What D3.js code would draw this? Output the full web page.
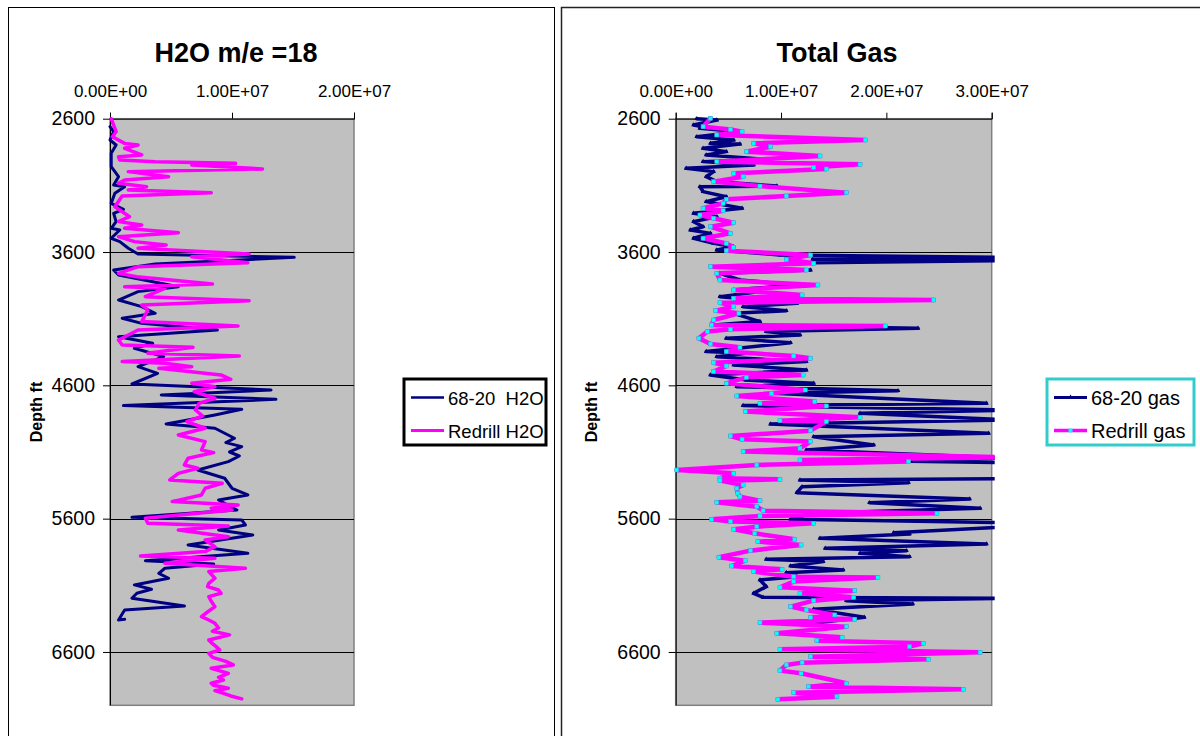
<!DOCTYPE html>
<html>
<head>
<meta charset="utf-8">
<script src="https://cdn.jsdelivr.net/npm/d3@7"></script>
<style>
  body { margin: 0; background: #fff; }
  svg { display: block; font-family: "Liberation Sans", Arial, sans-serif; }
</style>
</head>
<body>
<div id="chart"></div>
<script>
// depth ticks shared by both panels
var depthTicks = [2600, 3600, 4600, 5600, 6600];
var h2oTicks = [0, 1e7, 2e7];
var gasTicks = [0, 1e7, 2e7, 3e7];

// values below are in millions (x 1e6)
// --- H2O m/e=18, well 68-20
var h2oDepth6820 = [2660, 2697, 2760, 2797, 2860, 2960, 3035, 3097, 3110, 3160, 3235, 3280, 3310, 3372, 3422, 3435, 3497, 3522, 3572, 3615,
  3640, 3690, 3735, 3772, 3860, 3897, 3960, 4010, 4060, 4097, 4135, 4185, 4235, 4285, 4322, 4385, 4460, 4510, 4590, 4635,
  4672, 4705, 4752, 4780, 4822, 4890, 4922, 4997, 5030, 5060, 5100, 5130, 5172, 5235, 5297, 5372, 5422, 5460, 5535, 5590,
  5610, 5647, 5685, 5722, 5797, 5860, 5915, 5940, 5972, 6010, 6047, 6097, 6130, 6160, 6197, 6255, 6285, 6360, 6355];
var h2oVal6820 = [0.0, 0.3, 0.0, 0.5, 0.1, 0.1, 0.7, 0.3, 1.2, 0.4, 0.1, 1.1, 0.3, 0.5, 0.1, 0.8, 0.1, 0.8, 1.5, 2.3,
  15.1, 3.7, 0.3, 0.7, 5.6, 2.3, 0.7, 2.6, 3.7, 1.0, 2.6, 8.8, 0.7, 3.5, 2.0, 4.4, 2.3, 3.9, 1.8, 13.2,
  4.2, 13.6, 1.1, 10.8, 8.6, 4.6, 8.6, 10.2, 9.5, 10.8, 9.8, 10.6, 9.7, 7.2, 9.4, 10.0, 11.3, 8.9, 10.4, 1.8,
  10.8, 11.1, 8.9, 11.7, 6.4, 11.3, 2.9, 8.5, 4.5, 4.0, 4.8, 2.0, 3.4, 2.2, 1.8, 6.1, 1.2, 0.7, 1.2];

// --- H2O m/e=18, redrill
var h2oDepthRe = [2600, 2697, 2735, 2785, 2797, 2822, 2872, 2885, 2910, 2922, 2935, 2947, 2977, 2997, 3035, 3060, 3085, 3110, 3135, 3155,
  3180, 3260, 3285, 3335, 3372, 3397, 3422, 3455, 3485, 3522, 3547, 3572, 3615, 3635, 3680, 3710, 3760, 3785, 3840, 3860,
  3872, 3935, 3965, 3997, 4035, 4122, 4155, 4185, 4260, 4297, 4315, 4360, 4380, 4422, 4435, 4460, 4472, 4522, 4555, 4585,
  4610, 4647, 4697, 4735, 4785, 4830, 4872, 4922, 4972, 5022, 5085, 5105, 5147, 5197, 5222, 5260, 5310, 5335, 5372, 5422,
  5472, 5497, 5522, 5535, 5597, 5635, 5655, 5685, 5735, 5760, 5810, 5847, 5880, 5897, 5935, 5972, 5997, 6047, 6085, 6110,
  6135, 6160, 6185, 6220, 6260, 6300, 6335, 6360, 6385, 6420, 6445, 6472, 6510, 6530, 6560, 6585, 6610, 6640, 6670, 6697,
  6722, 6760, 6790, 6810, 6835, 6850, 6872, 6890, 6910, 6930, 6952];
var h2oValRe = [0.1, 0.5, 0.2, 1.2, 2.3, 1.2, 2.6, 0.7, 0.8, 3.7, 10.3, 6.7, 12.5, 1.5, 4.8, 1.2, 0.7, 3.0, 1.5, 8.3,
  1.0, 0.4, 0.8, 1.6, 0.7, 2.6, 1.2, 5.6, 0.7, 2.0, 4.6, 2.3, 11.4, 6.7, 11.3, 2.3, 0.7, 2.2, 8.4, 1.2,
  4.5, 2.9, 11.4, 2.6, 3.1, 2.6, 10.5, 2.3, 0.7, 1.0, 6.8, 3.1, 10.6, 1.0, 4.5, 6.7, 4.0, 9.1, 9.9, 6.7,
  8.6, 6.9, 8.6, 7.3, 7.0, 7.6, 6.3, 7.8, 5.6, 7.8, 7.5, 8.5, 6.4, 6.1, 7.2, 5.6, 4.9, 9.2, 7.8, 7.5,
  5.1, 10.5, 8.3, 10.0, 2.9, 3.1, 9.7, 5.6, 9.7, 7.8, 8.6, 7.8, 2.5, 8.6, 4.5, 11.1, 8.1, 8.6, 8.1, 8.0,
  8.9, 9.1, 8.1, 8.3, 8.6, 8.0, 7.5, 8.1, 8.6, 8.9, 8.4, 9.8, 8.1, 8.3, 8.7, 9.0, 8.1, 8.4, 9.5, 10.1,
  8.3, 9.7, 8.9, 9.3, 8.3, 8.5, 9.7, 8.6, 9.3, 9.9, 10.8];

// --- Total gas, well 68-20 (values past 30 run off the plot)
var gasDepth6820 = [2600, 2610, 2647, 2660, 2672, 2697, 2735, 2760, 2785, 2790, 2822, 2847, 2872, 2905, 2922, 2947, 2972, 2997, 3035, 3072,
  3105, 3110, 3147, 3185, 3222, 3272, 3310, 3335, 3372, 3410, 3435, 3460, 3497, 3535, 3560, 3585, 3622, 3640, 3655, 3665,
  3680, 3715, 3735, 3760, 3810, 3847, 3885, 3897, 3935, 3985, 4010, 4040, 4060, 4122, 4147, 4172, 4197, 4222, 4247, 4280,
  4347, 4360, 4385, 4422, 4447, 4485, 4522, 4560, 4585, 4610, 4640, 4660, 4735, 4752, 4785, 4810, 4860, 4890, 4960, 4985,
  5047, 5085, 5147, 5160, 5180, 5290, 5300, 5310, 5330, 5360, 5405, 5452, 5480, 5522, 5560, 5605, 5630, 5660, 5705, 5715,
  5747, 5790, 5822, 5840, 5860, 5885, 5905, 5922, 5955, 5985, 6005, 6035, 6060, 6110, 6160, 6190, 6197, 6215, 6240, 6280,
  6340, 6380];
var gasVal6820 = [2.0, 3.9, 1.7, 2.6, 2.3, 6.1, 2.0, 5.5, 3.3, 6.1, 2.6, 4.8, 2.9, 8.6, 2.6, 7.4, 1.0, 3.6, 2.9, 3.9,
  9.6, 2.3, 2.6, 4.8, 2.9, 6.3, 1.7, 3.9, 1.7, 2.6, 1.4, 3.3, 1.7, 3.6, 5.5, 3.9, 9.9, 32, 13.0, 32,
  13.1, 5.2, 12.8, 4.2, 6.1, 11.5, 5.5, 8.0, 4.2, 11.5, 6.4, 10.5, 5.5, 8.0, 3.6, 23.0, 8.6, 11.8, 4.8, 10.9,
  2.9, 6.7, 3.9, 12.4, 5.5, 12.4, 3.3, 6.7, 13.1, 5.8, 21.1, 9.3, 29.5, 6.4, 32, 17.5, 32, 9.0, 29.7, 13.1,
  18.8, 12.4, 32, 14.0, 32, 32, 32, 11.8, 22.1, 12.0, 11.5, 27.9, 18.4, 28.9, 12.8, 10.9, 32, 32, 20.7, 22.2,
  13.7, 29.5, 14.2, 21.9, 17.5, 22.2, 8.6, 14.0, 10.9, 15.9, 10.5, 11.5, 8.0, 8.6, 7.4, 8.3, 32, 16.2, 22.5, 13.1,
  17.9, 13.4];

// --- Total gas, redrill
var gasDepthRe = [2597, 2660, 2680, 2697, 2722, 2760, 2785, 2810, 2847, 2880, 2922, 2942, 2965, 2977, 3010, 3035, 3072, 3105, 3155, 3180,
  3205, 3235, 3272, 3290, 3322, 3347, 3380, 3410, 3460, 3497, 3535, 3565, 3590, 3622, 3655, 3685, 3710, 3735, 3760, 3810,
  3847, 3885, 3922, 3947, 3960, 3980, 4010, 4040, 4060, 4110, 4147, 4155, 4180, 4197, 4247, 4290, 4315, 4347, 4380, 4397,
  4430, 4455, 4497, 4522, 4540, 4585, 4635, 4660, 4680, 4722, 4735, 4755, 4797, 4840, 4865, 4872, 4940, 4980, 5005, 5022,
  5072, 5097, 5140, 5160, 5172, 5197, 5235, 5260, 5297, 5305, 5315, 5347, 5372, 5410, 5435, 5465, 5477, 5510, 5540, 5560,
  5580, 5605, 5622, 5635, 5660, 5680, 5710, 5755, 5772, 5797, 5840, 5890, 5915, 5955, 5980, 5997, 6035, 6042, 6072, 6115,
  6140, 6160, 6190, 6215, 6260, 6285, 6322, 6340, 6355, 6380, 6410, 6460, 6490, 6515, 6535, 6560, 6580, 6602, 6635, 6655,
  6680, 6697, 6740, 6760, 6835, 6860, 6880, 6905, 6935, 6955];
var gasValRe = [3.3, 2.6, 5.2, 6.3, 3.9, 18.0, 7.4, 9.0, 6.7, 13.7, 3.9, 17.5, 13.1, 14.3, 5.5, 6.4, 3.6, 8.0, 16.2, 10.5,
  4.8, 4.5, 2.6, 4.5, 2.3, 3.6, 5.5, 3.3, 5.2, 2.6, 4.8, 5.5, 4.8, 12.8, 10.5, 13.1, 3.3, 12.4, 3.9, 4.2,
  13.5, 5.5, 12.0, 5.5, 24.5, 4.2, 5.5, 3.8, 6.0, 3.6, 3.4, 19.9, 5.2, 3.0, 2.2, 3.3, 6.1, 4.8, 11.2, 12.8,
  3.6, 4.8, 3.6, 12.1, 6.7, 4.8, 12.3, 9.1, 5.8, 13.2, 8.0, 14.3, 6.6, 17.5, 9.9, 14.3, 12.8, 5.2, 6.3, 12.8,
  11.8, 6.4, 32, 11.8, 22.1, 7.7, 0.1, 5.5, 4.2, 9.9, 4.2, 6.4, 5.8, 5.9, 6.1, 8.0, 3.9, 7.7, 8.3, 24.8,
  8.0, 3.4, 5.2, 13.1, 7.7, 5.5, 7.5, 11.3, 7.8, 11.9, 7.1, 4.1, 6.6, 5.3, 10.1, 7.4, 11.2, 19.2, 11.2, 9.9,
  17.0, 11.8, 16.9, 13.1, 10.9, 12.4, 15.1, 12.8, 17.0, 8.0, 16.2, 9.6, 15.8, 13.4, 23.5, 22.2, 9.9, 28.9, 12.8, 24.0,
  12.0, 10.5, 9.9, 11.9, 16.2, 12.6, 27.3, 11.2, 15.3, 9.7];

var navy = "#000080", magenta = "#FF00FF", cyan = "#00FFFF";

function toPoints(depths, vals) {
  return depths.map(function (d, i) { return { depth: d, value: vals[i] * 1e6 }; });
}

function sciFormat(v) {
  if (v === 0) return "0.00E+00";
  var e = Math.floor(Math.log10(v));
  var m = v / Math.pow(10, e);
  return m.toFixed(2) + "E+" + String(e).padStart(2, "0");
}

var svg = d3.select("#chart").append("svg")
  .attr("width", 1200)
  .attr("height", 736);

// chart frames
svg.append("rect").attr("x", 8.5).attr("y", 7.5).attr("width", 546).attr("height", 760)
  .attr("fill", "none").attr("stroke", "#000").attr("stroke-width", 1);
svg.append("rect").attr("x", 561.5).attr("y", 7.5).attr("width", 700).attr("height", 760)
  .attr("fill", "none").attr("stroke", "#222").attr("stroke-width", 1.5);

function drawPanel(cfg) {
  var x = d3.scaleLinear().domain(cfg.xDomain).range([cfg.left, cfg.right]);
  var y = d3.scaleLinear().domain([2600, 7000]).range([118.7, 705.3]);
  var g = svg.append("g");

  // plot area
  g.append("rect")
    .attr("x", cfg.left).attr("y", y(2600))
    .attr("width", cfg.right - cfg.left).attr("height", y(7000) - y(2600))
    .attr("fill", "#C0C0C0").attr("stroke", "#808080").attr("stroke-width", 1.5);

  // horizontal gridlines
  g.append("g").selectAll("line")
    .data(depthTicks.slice(1))
    .enter().append("line")
    .attr("x1", cfg.left).attr("x2", cfg.right)
    .attr("y1", function (d) { return Math.round(y(d)) + 0.5; })
    .attr("y2", function (d) { return Math.round(y(d)) + 0.5; })
    .attr("stroke", "#000").attr("stroke-width", 1);

  // top value axis
  var xAxis = g.append("g")
    .attr("transform", "translate(0," + y(2600) + ")")
    .call(d3.axisTop(x).tickValues(cfg.xTicks).tickFormat(sciFormat).tickSize(6).tickPadding(16));
  xAxis.selectAll("text").attr("font-size", "17px").attr("fill", "#000")
    .attr("font-family", "Liberation Sans, Arial, sans-serif");
  xAxis.select(".domain").attr("stroke", "#000");

  // left depth axis
  var yAxis = g.append("g")
    .attr("transform", "translate(" + cfg.left + ",0)")
    .call(d3.axisLeft(y).tickValues(depthTicks).tickFormat(d3.format("d")).tickSize(7).tickPadding(8));
  yAxis.selectAll("text").attr("font-size", "19.5px").attr("fill", "#000")
    .attr("font-family", "Liberation Sans, Arial, sans-serif");
  yAxis.select(".domain").attr("d", "M0.5," + y(2600) + "V" + y(7000)).attr("stroke", "#000");

  // titles
  g.append("text")
    .attr("x", cfg.titleX).attr("y", 62)
    .attr("text-anchor", "middle")
    .attr("font-size", "27px").attr("font-weight", "bold")
    .text(cfg.title);
  g.append("text")
    .attr("transform", "translate(" + cfg.yLabelX + "," + ((y(2600) + y(7000)) / 2) + ") rotate(-90)")
    .attr("text-anchor", "middle")
    .attr("font-size", "16px").attr("font-weight", "bold")
    .text("Depth ft");

  // series, clipped to the plot area
  var clipId = "clip-" + cfg.key;
  svg.append("clipPath").attr("id", clipId)
    .append("rect")
    .attr("x", cfg.left - 6).attr("y", y(2600) - 6)
    .attr("width", cfg.right - cfg.left + 9).attr("height", y(7000) - y(2600) + 6);

  var line = d3.line()
    .x(function (d) { return x(d.value); })
    .y(function (d) { return y(d.depth); });

  var sg = g.append("g").attr("clip-path", "url(#" + clipId + ")");
  cfg.series.forEach(function (s) {
    sg.append("path")
      .datum(s.data)
      .attr("d", line)
      .attr("fill", "none")
      .attr("stroke", s.color)
      .attr("stroke-width", s.width)
      .attr("stroke-linejoin", "round")
      .attr("stroke-linecap", "round");
    if (s.marker === "tri") {
      sg.append("g").selectAll("path")
        .data(s.data)
        .enter().append("path")
        .attr("transform", function (d) { return "translate(" + x(d.value) + "," + y(d.depth) + ")"; })
        .attr("d", d3.symbol().type(d3.symbolTriangle).size(10))
        .attr("fill", navy);
    } else if (s.marker === "sq") {
      sg.append("g").selectAll("rect")
        .data(s.data)
        .enter().append("rect")
        .attr("x", function (d) { return x(d.value) - 2; })
        .attr("y", function (d) { return y(d.depth) - 2; })
        .attr("width", 4).attr("height", 4)
        .attr("fill", cyan)
        .attr("stroke", "#33AACC").attr("stroke-width", 0.5);
    }
  });

  // legend
  var lg = g.append("g");
  lg.append("rect")
    .attr("x", cfg.legend.x).attr("y", 379)
    .attr("width", cfg.legend.w).attr("height", 66)
    .attr("fill", "#fff").attr("stroke", cfg.legend.stroke).attr("stroke-width", 3);
  cfg.series.forEach(function (s, i) {
    var ly = 397.5 + i * 33;
    lg.append("line")
      .attr("x1", cfg.legend.x + 7).attr("x2", cfg.legend.x + 40)
      .attr("y1", ly).attr("y2", ly)
      .attr("stroke", s.color).attr("stroke-width", s.legendWidth);
    if (s.marker === "tri") {
      lg.append("path")
        .attr("transform", "translate(" + (cfg.legend.x + 23.5) + "," + ly + ")")
        .attr("d", d3.symbol().type(d3.symbolTriangle).size(12))
        .attr("fill", navy);
    } else if (s.marker === "sq") {
      lg.append("rect")
        .attr("x", cfg.legend.x + 21.5).attr("y", ly - 2)
        .attr("width", 4).attr("height", 4).attr("fill", cyan);
    }
    lg.append("text")
      .attr("x", cfg.legend.x + 44).attr("y", ly + 7)
      .attr("font-size", cfg.legend.font)
      .attr("xml:space", "preserve")
      .style("white-space", "pre")
      .text(s.name);
  });
}

drawPanel({
  key: "h2o",
  title: "H2O m/e =18",
  titleX: 236,
  yLabelX: 42,
  left: 110, right: 354,
  xDomain: [0, 2e7],
  xTicks: h2oTicks,
  legend: { x: 404, w: 142, stroke: "#000", font: "18.5px" },
  series: [
    { name: "68-20  H2O", data: toPoints(h2oDepth6820, h2oVal6820), color: navy, width: 3, legendWidth: 2.5 },
    { name: "Redrill H2O", data: toPoints(h2oDepthRe, h2oValRe), color: magenta, width: 3.5, legendWidth: 3 }
  ]
});

drawPanel({
  key: "gas",
  title: "Total Gas",
  titleX: 837,
  yLabelX: 597,
  left: 675.7, right: 991.7,
  xDomain: [0, 3e7],
  xTicks: gasTicks,
  legend: { x: 1047, w: 147, stroke: "#33CCCC", font: "20px" },
  series: [
    { name: "68-20 gas", data: toPoints(gasDepth6820, gasVal6820), color: navy, width: 3.5, legendWidth: 3, marker: "tri" },
    { name: "Redrill gas", data: toPoints(gasDepthRe, gasValRe), color: magenta, width: 4.5, legendWidth: 3.5, marker: "sq" }
  ]
});
</script>
</body>
</html>
